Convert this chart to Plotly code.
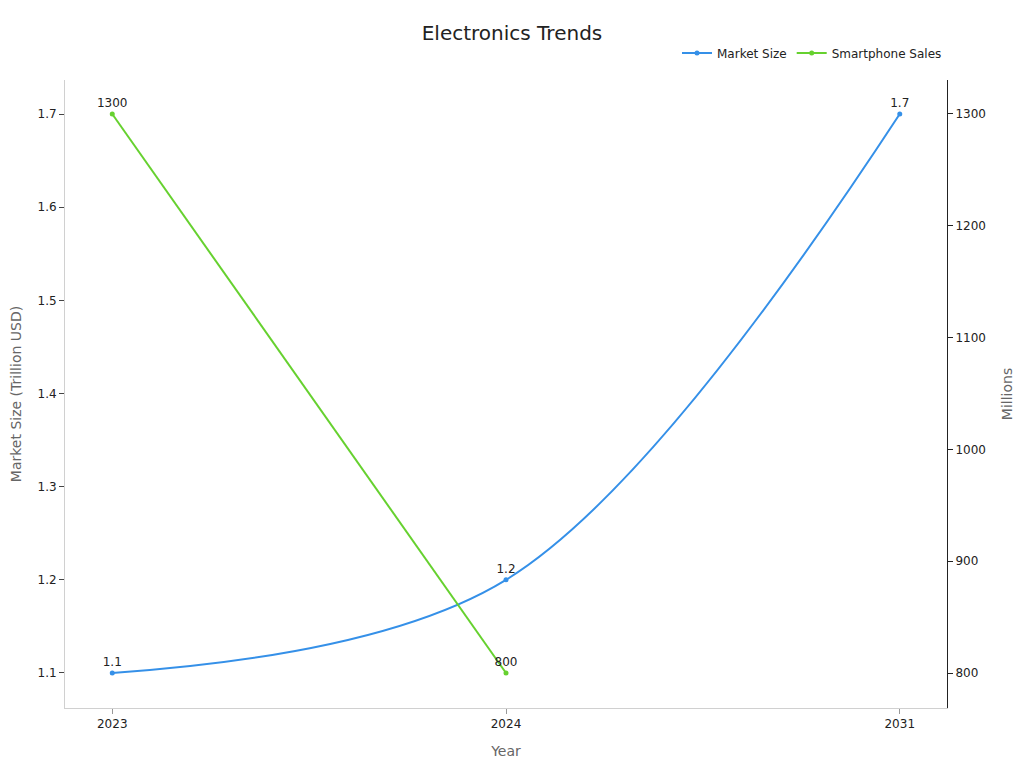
import plotly.graph_objects as go

years = ["2023", "2024", "2031"]
market_size = [1.1, 1.2, 1.7]
sales_years = ["2023", "2024"]
smartphone_sales = [1300, 800]

blue = "#3590e8"
green = "#66d12f"

fig = go.Figure()
fig.add_trace(go.Scatter(
    x=years, y=market_size, name="Market Size", mode="lines+markers+text",
    line=dict(color=blue, width=2, shape="spline"), marker=dict(size=5, color=blue),
    text=[str(v) for v in market_size], textposition="top center",
    textfont=dict(size=12, color="#222"), yaxis="y", cliponaxis=False,
))
fig.add_trace(go.Scatter(
    x=sales_years, y=smartphone_sales, name="Smartphone Sales", mode="lines+markers+text",
    line=dict(color=green, width=2), marker=dict(size=5, color=green),
    text=[str(v) for v in smartphone_sales], textposition="top center",
    textfont=dict(size=12, color="#222"), yaxis="y2", cliponaxis=False,
))

fig.update_layout(
    width=1024, height=768,
    margin=dict(l=57, r=85, t=72, b=68, autoexpand=False),
    paper_bgcolor="white", plot_bgcolor="white",
    font=dict(family="DejaVu Sans", size=12, color="#333"),
    title=dict(text="Electronics Trends", x=0.4922, xanchor="center", y=0.9674, yanchor="middle",
               font=dict(size=20, color="#222")),
    legend=dict(orientation="h", x=1.0, xanchor="right", y=1.043, yanchor="middle",
                font=dict(size=12, color="#222"), bgcolor="rgba(0,0,0,0)"),
    xaxis=dict(type="category", range=[-0.12, 2.12], showgrid=False, zeroline=False,
               showline=True, linecolor="#d0d0d0", linewidth=1, ticks="outside",
               tickcolor="#999", ticklen=5, automargin=False,
               title=dict(text="Year", font=dict(size=14, color="#666"), standoff=15),
               tickfont=dict(size=12, color="#222")),
    yaxis=dict(range=[1.0624, 1.7365], dtick=0.1, showgrid=False, zeroline=False,
               showline=True, linecolor="#d0d0d0", linewidth=1, ticks="outside",
               tickcolor="#444", ticklen=5, tickformat=".1f", automargin=False,
               title=dict(text="Market Size (Trillion USD)", font=dict(size=14, color="#666"), standoff=19),
               tickfont=dict(size=12, color="#222")),
    yaxis2=dict(range=[768.7, 1330.4], dtick=100, overlaying="y", side="right",
                showgrid=False, zeroline=False, showline=True, linecolor="#222", linewidth=1,
                ticks="outside", tickcolor="#222", ticklen=5, automargin=False,
                title=dict(text="Millions", font=dict(size=14, color="#666"), standoff=17),
                tickfont=dict(size=12, color="#222")),
)

fig.write_html("out.html")
